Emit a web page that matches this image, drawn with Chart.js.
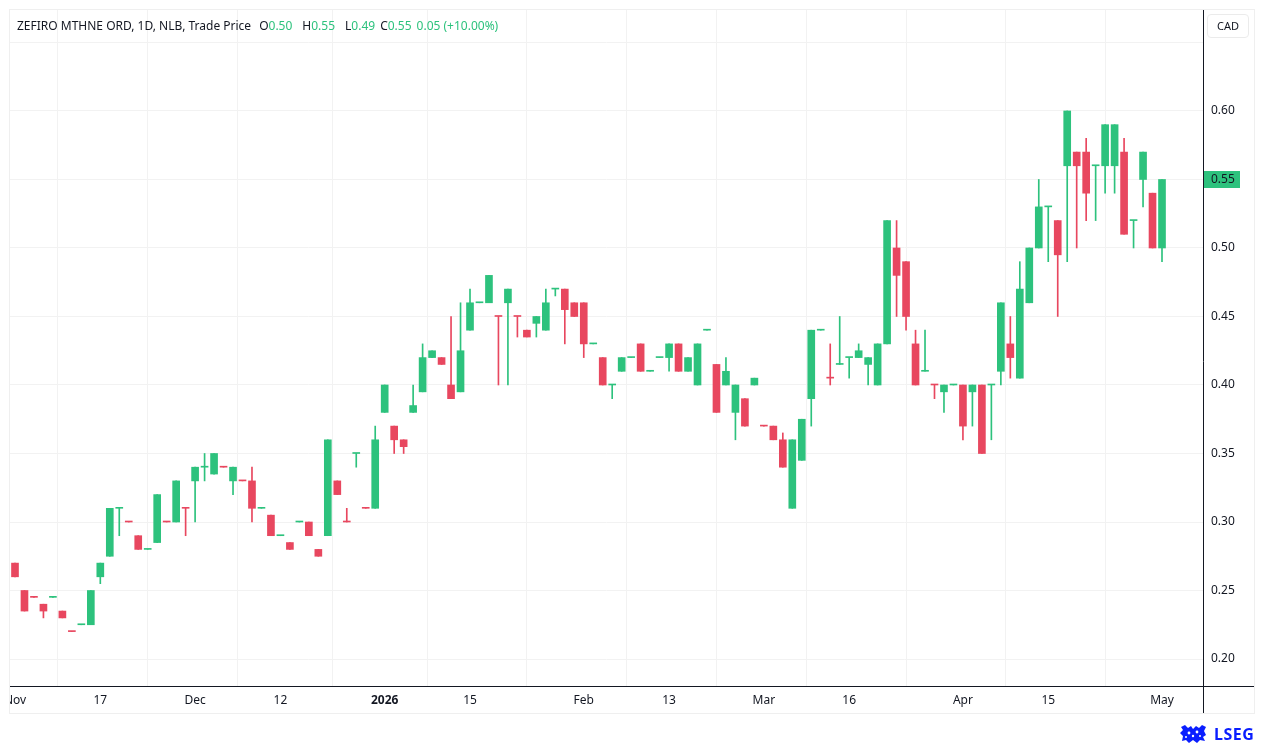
<!DOCTYPE html>
<html>
<head>
<meta charset="utf-8">
<script src="https://cdn.jsdelivr.net/npm/chart.js@4.4.1/dist/chart.umd.min.js"></script>
<style>
    html, body { margin: 0; padding: 0; background: #fff; overflow: hidden; }
    #quadro { position: relative; width: 1264px; height: 744px; }
    #titulo { position: absolute; left: 17px; top: 17px; font: 12px 'Noto Sans', sans-serif; color: #131722; white-space: nowrap; }
    #titulo .item { margin-left: 10px; }
    #titulo .item.primeiro { margin-left: 8px; }
    #titulo .item.curto { margin-left: 5px; }
    #titulo .v { color: #2dc27d; }
    #moeda { position: absolute; left: 1207px; top: 14px; width: 42px; height: 24px; box-sizing: border-box;
             border: 1px solid #ebebeb; border-radius: 4px; font: 11px 'Noto Sans', sans-serif; color: #131722;
             line-height: 22px; text-align: center; }
    #logo { position: absolute; left: 1180px; top: 724px; height: 20px; display: flex; align-items: center;
            font: bold 16px 'Noto Sans', sans-serif; color: #0a1eff; letter-spacing: 0.5px; }
    #logo svg { margin-right: 7px; }
</style>
</head>
<body>
<div id="quadro">
    <canvas id="graficoCandles"></canvas>
    <div id="titulo"></div>
    <div id="moeda">CAD</div>
    <div id="logo">
        <svg width="27" height="18" viewBox="0 0 27 18">
            <path d="M1 2 L5 0 L8 3 L11 1 L13 4 L16 1 L19 3 L22 0 L26 2 L24 6 L26 10 L23 12 L25 16 L20 15 L17 18 L13 15 L9 18 L6 15 L2 16 L3 11 L0 8 L3 5 Z" fill="#0a1eff"/>
            <circle cx="9" cy="8" r="1.4" fill="#fff"/><circle cx="17" cy="7" r="1.4" fill="#fff"/>
            <circle cx="13" cy="11" r="1.2" fill="#fff"/><circle cx="6" cy="12" r="1" fill="#fff"/>
            <circle cx="20" cy="11" r="1" fill="#fff"/>
        </svg>LSEG</div>
</div>
<script>
// ---------- Dados (um candle por pregão, 4 nov 2025 a 1 mai 2026) ----------
const abertura = [
    0.27, 0.25, 0.245, 0.24, 0.245, 0.235, 0.22, 0.225, 0.225, 0.26,
    0.275, 0.31, 0.30, 0.29, 0.28, 0.285, 0.30, 0.30, 0.31, 0.33,
    0.34, 0.335, 0.34, 0.33, 0.33, 0.33, 0.31, 0.305, 0.29, 0.285,
    0.30, 0.30, 0.28, 0.29, 0.33, 0.30, 0.35, 0.31, 0.31, 0.38,
    0.37, 0.36, 0.38, 0.395, 0.42, 0.42, 0.40, 0.395, 0.44, 0.46,
    0.46, 0.45, 0.46, 0.45, 0.44, 0.445, 0.44, 0.47, 0.47, 0.46,
    0.46, 0.43, 0.42, 0.40, 0.41, 0.42, 0.43, 0.41, 0.42, 0.42,
    0.43, 0.41, 0.40, 0.44, 0.415, 0.40, 0.38, 0.39, 0.40, 0.37,
    0.37, 0.36, 0.31, 0.345, 0.39, 0.44, 0.405, 0.415, 0.42, 0.42,
    0.415, 0.40, 0.43, 0.50, 0.49, 0.43, 0.41, 0.40, 0.395, 0.40,
    0.40, 0.395, 0.40, 0.40, 0.41, 0.43, 0.405, 0.46, 0.50, 0.53,
    0.52, 0.56, 0.57, 0.57, 0.56, 0.56, 0.56, 0.57, 0.52, 0.55,
    0.54, 0.50
];
const maxima = [
    0.27, 0.25, 0.245, 0.24, 0.245, 0.235, 0.22, 0.225, 0.25, 0.27,
    0.31, 0.31, 0.30, 0.29, 0.28, 0.32, 0.30, 0.33, 0.31, 0.34,
    0.35, 0.35, 0.34, 0.34, 0.33, 0.34, 0.31, 0.305, 0.29, 0.285,
    0.30, 0.30, 0.28, 0.36, 0.33, 0.31, 0.35, 0.31, 0.37, 0.40,
    0.37, 0.36, 0.40, 0.43, 0.425, 0.42, 0.45, 0.46, 0.47, 0.46,
    0.48, 0.45, 0.47, 0.45, 0.44, 0.45, 0.47, 0.47, 0.47, 0.46,
    0.46, 0.43, 0.42, 0.40, 0.42, 0.42, 0.43, 0.41, 0.42, 0.43,
    0.43, 0.42, 0.43, 0.44, 0.415, 0.42, 0.40, 0.39, 0.405, 0.37,
    0.37, 0.365, 0.36, 0.375, 0.44, 0.44, 0.43, 0.45, 0.42, 0.43,
    0.42, 0.43, 0.52, 0.52, 0.49, 0.44, 0.44, 0.40, 0.40, 0.40,
    0.40, 0.40, 0.40, 0.40, 0.46, 0.45, 0.49, 0.50, 0.55, 0.53,
    0.52, 0.60, 0.57, 0.58, 0.56, 0.59, 0.59, 0.58, 0.52, 0.57,
    0.54, 0.55
];
const minima = [
    0.26, 0.235, 0.245, 0.23, 0.245, 0.23, 0.22, 0.225, 0.225, 0.255,
    0.275, 0.29, 0.30, 0.28, 0.28, 0.285, 0.30, 0.30, 0.29, 0.30,
    0.33, 0.335, 0.34, 0.32, 0.33, 0.30, 0.31, 0.29, 0.29, 0.28,
    0.30, 0.29, 0.275, 0.29, 0.32, 0.30, 0.34, 0.31, 0.31, 0.38,
    0.35, 0.35, 0.38, 0.395, 0.42, 0.415, 0.39, 0.395, 0.44, 0.46,
    0.46, 0.40, 0.40, 0.435, 0.435, 0.435, 0.44, 0.465, 0.43, 0.45,
    0.42, 0.43, 0.40, 0.39, 0.41, 0.42, 0.41, 0.41, 0.42, 0.41,
    0.41, 0.41, 0.40, 0.44, 0.38, 0.40, 0.36, 0.37, 0.40, 0.37,
    0.36, 0.34, 0.31, 0.345, 0.37, 0.44, 0.40, 0.415, 0.405, 0.42,
    0.40, 0.40, 0.43, 0.45, 0.44, 0.40, 0.41, 0.39, 0.38, 0.40,
    0.36, 0.37, 0.35, 0.36, 0.40, 0.405, 0.405, 0.46, 0.50, 0.49,
    0.45, 0.49, 0.50, 0.52, 0.52, 0.54, 0.54, 0.51, 0.50, 0.53,
    0.50, 0.49
];
const fechamento = [
    0.26, 0.235, 0.245, 0.235, 0.245, 0.23, 0.22, 0.225, 0.25, 0.27,
    0.31, 0.31, 0.30, 0.28, 0.28, 0.32, 0.30, 0.33, 0.31, 0.34,
    0.34, 0.35, 0.34, 0.34, 0.33, 0.31, 0.31, 0.29, 0.29, 0.28,
    0.30, 0.29, 0.275, 0.36, 0.32, 0.30, 0.35, 0.31, 0.36, 0.40,
    0.36, 0.355, 0.385, 0.42, 0.425, 0.415, 0.39, 0.425, 0.46, 0.46,
    0.48, 0.45, 0.47, 0.45, 0.435, 0.45, 0.46, 0.47, 0.455, 0.45,
    0.43, 0.43, 0.40, 0.40, 0.42, 0.42, 0.41, 0.41, 0.42, 0.43,
    0.41, 0.42, 0.43, 0.44, 0.38, 0.41, 0.40, 0.37, 0.405, 0.37,
    0.36, 0.34, 0.36, 0.375, 0.44, 0.44, 0.405, 0.415, 0.42, 0.425,
    0.42, 0.43, 0.52, 0.48, 0.45, 0.40, 0.41, 0.40, 0.40, 0.40,
    0.37, 0.40, 0.35, 0.40, 0.46, 0.42, 0.47, 0.50, 0.53, 0.53,
    0.495, 0.60, 0.56, 0.54, 0.56, 0.59, 0.59, 0.51, 0.52, 0.57,
    0.50, 0.55
];
// candles sem corpo (abertura = fechamento) que aparecem em vermelho
const dojiBaixa = [2, 6, 12, 16, 18, 22, 24, 35, 37, 51, 53, 79, 86, 97];

// eixos
const posicoesX = [0, 9, 19, 28, 39, 48, 60, 69, 79, 88, 100, 109, 121];
const rotulosX = ['Nov', '17', 'Dec', '12', '2026', '15', 'Feb', '13', 'Mar', '16', 'Apr', '15', 'May'];
const valoresY = [0.20, 0.25, 0.30, 0.35, 0.40, 0.45, 0.50, 0.55, 0.60, 0.65];
const rotulosY = ['0.20', '0.25', '0.30', '0.35', '0.40', '0.45', '0.50', '0.55', '0.60', ''];

const VERDE = '#2dc27d';
const VERMELHO = '#e8475f';
const TEXTO = '#131722';
const FONTE = "'Noto Sans', sans-serif";

const indices = abertura.map((_, i) => i);
const cores = indices.map(i => {
    if (fechamento[i] > abertura[i]) return VERDE;
    if (fechamento[i] < abertura[i]) return VERMELHO;
    return dojiBaixa.includes(i) ? VERMELHO : VERDE;
});

// ---------- Título com OHLC do último pregão ----------
const ult = abertura.length - 1;
const variacao = fechamento[ult] - fechamento[ult - 1];
const pct = variacao / fechamento[ult - 1] * 100;
document.getElementById('titulo').innerHTML =
    'ZEFIRO MTHNE ORD, 1D, NLB, Trade Price' +
    '<span class="item primeiro">O<span class="v">' + abertura[ult].toFixed(2) + '</span></span>' +
    '<span class="item">H<span class="v">' + maxima[ult].toFixed(2) + '</span></span>' +
    '<span class="item">L<span class="v">' + minima[ult].toFixed(2) + '</span></span>' +
    '<span class="item curto">C<span class="v">' + fechamento[ult].toFixed(2) + '</span></span>' +
    '<span class="item curto v">' + variacao.toFixed(2) + ' (' + (pct >= 0 ? '+' : '') + pct.toFixed(2) + '%)</span>';

// ---------- Moldura, linhas dos eixos e etiqueta do preço atual ----------
const moldura = {
    id: 'moldura',
    afterDraw(chart) {
        const c = chart.ctx;
        const area = chart.chartArea;
        const y = chart.scales.y;
        c.save();
        // corta o "Nov" na borda esquerda
        c.fillStyle = '#fff';
        c.fillRect(0, area.bottom + 1, area.left - 0.5, 27);
        // moldura externa
        c.strokeStyle = '#efefef';
        c.lineWidth = 1;
        c.strokeRect(area.left - 0.5, area.top - 0.5, 1254 - area.left + 1, 713 - area.top + 1);
        // linhas dos eixos
        c.strokeStyle = TEXTO;
        c.beginPath();
        c.moveTo(area.right + 0.5, area.top);
        c.lineTo(area.right + 0.5, 713);
        c.moveTo(area.left, area.bottom + 0.5);
        c.lineTo(1254, area.bottom + 0.5);
        c.stroke();
        // preço atual
        const py = Math.round(y.getPixelForValue(fechamento[ult]));
        c.fillStyle = VERDE;
        c.fillRect(area.right + 1, py - 8, 36, 17);
        c.fillStyle = TEXTO;
        c.font = '12px ' + FONTE;
        c.textBaseline = 'middle';
        c.fillText(fechamento[ult].toFixed(2), area.right + 8, py + 0.5);
        c.restore();
    }
};

// ---------- Configuração do Gráfico ----------
const ctx = document.getElementById('graficoCandles').getContext('2d');
new Chart(ctx, {
    type: 'bar',
    data: {
        datasets: [{
            label: 'Sombra',
            data: indices.map(i => ({ x: i, y: [minima[i], maxima[i]] })),
            backgroundColor: cores,
            barThickness: 1,
            grouped: false,
            order: 2
        }, {
            label: 'Corpo',
            data: indices.map(i => ({ x: i, y: [abertura[i], fechamento[i]] })),
            backgroundColor: cores,
            barThickness: 7,
            minBarLength: 1,
            grouped: false,
            order: 1
        }]
    },
    options: {
        responsive: true,
        maintainAspectRatio: false,
        animation: false,
        layout: { padding: { left: 10, right: 10, top: 10, bottom: 31 } },
        plugins: {
            legend: { display: false },
            tooltip: { enabled: false }
        },
        scales: {
            x: {
                type: 'linear',
                min: -0.527,
                max: 125.325,
                offset: false,
                afterBuildTicks: (eixo) => { eixo.ticks = posicoesX.map(v => ({ value: v })); },
                afterFit: (eixo) => {
                    eixo.height = 27;
                    eixo.paddingLeft = 0;
                    eixo.paddingRight = 0;
                },
                ticks: {
                    autoSkip: false,
                    maxRotation: 0,
                    padding: 7,
                    color: TEXTO,
                    font: (c) => ({ family: FONTE, size: 12, weight: rotulosX[c.index] === '2026' ? 'bold' : 'normal' }),
                    callback: (v, i) => rotulosX[i]
                },
                grid: { color: '#f2f2f2', drawTicks: false },
                border: { display: false }
            },
            y: {
                position: 'right',
                min: 0.1803,
                max: 0.6737,
                afterBuildTicks: (eixo) => { eixo.ticks = valoresY.map(v => ({ value: v })); },
                afterFit: (eixo) => {
                    eixo.width = 51;
                    eixo.paddingTop = 0;
                    eixo.paddingBottom = 0;
                },
                ticks: {
                    padding: 8,
                    color: TEXTO,
                    font: { family: FONTE, size: 12 },
                    callback: (v, i) => rotulosY[i]
                },
                grid: { color: '#f2f2f2', drawTicks: false },
                border: { display: false }
            }
        }
    },
    plugins: [moldura]
});
</script>
</body>
</html>
